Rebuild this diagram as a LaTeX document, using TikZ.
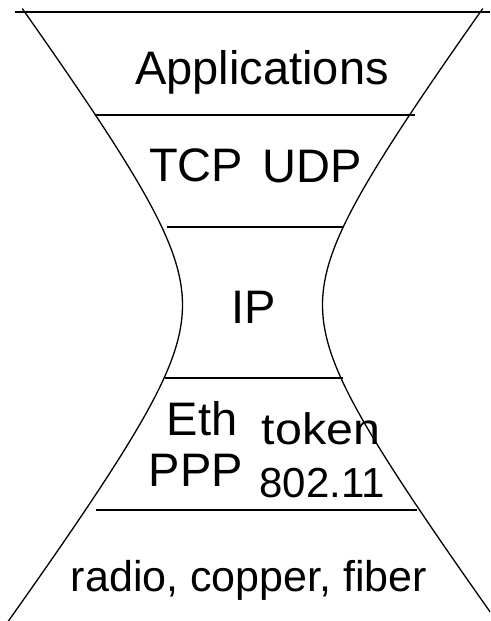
\documentclass[tikz,border=0pt]{standalone}
\usepackage{fontspec}
\setmainfont{Liberation Sans}
\begin{document}
\begin{tikzpicture}[x=1pt,y=-1pt,
  layer/.style={line width=1.3pt},
  side/.style={line width=1.3pt},
  big/.style={inner sep=0pt,anchor=base,font=\fontsize{47}{50}\selectfont},
  mid/.style={inner sep=0pt,anchor=base,font=\fontsize{43}{46}\selectfont},
  small/.style={inner sep=0pt,anchor=base,font=\fontsize{42}{45}\selectfont}]
\useasboundingbox (0,0) rectangle (490,621);
\begin{scope}
\clip (0,0) rectangle (490,621);
% hourglass sides (hyperbola)
\draw[side] plot[domain=-1.86:1.95,samples=120,variable=\t]
  ({252.5-70*cosh(\t)},{305+94.6*sinh(\t)});
\draw[side] plot[domain=-1.86:1.95,samples=120,variable=\t]
  ({252.5+70*cosh(\t)},{305+94.6*sinh(\t)});
\end{scope}
% layer boundaries
\coordinate (l1a) at (15,12);  \coordinate (l1b) at (490,12);
\coordinate (l2a) at (95,115); \coordinate (l2b) at (415,115);
\coordinate (l3a) at (167,227);\coordinate (l3b) at (344,227);
\coordinate (l4a) at (165,378);\coordinate (l4b) at (343,378);
\coordinate (l5a) at (96,510); \coordinate (l5b) at (417,510);
\draw[layer] (l1a) -- (l1b);
\draw[layer] (l2a) -- (l2b);
\draw[layer] (l3a) -- (l3b);
\draw[layer] (l4a) -- (l4b);
\draw[layer] (l5a) -- (l5b);
% labels
\node[big] (app) at (262,84) {Applications};
\node[big] (tcp) at (196,181) {TCP};
\node[big] (udp) at (312,182) {UDP};
\node[big] (ip) at (254,323) {IP};
\node[big] (eth) at (202,435) {Eth};
\node[big] (ppp) at (196,486) {PPP};
\node[small, font=\fontsize{44}{47}\selectfont] (tok) at (321,444) {\scalebox{1.1}[1]{token}};
\node[small] (wifi) at (322,497) {802.11};
\node[mid] (phy) at (249,591) {radio, copper, fiber};
\end{tikzpicture}
\end{document}
